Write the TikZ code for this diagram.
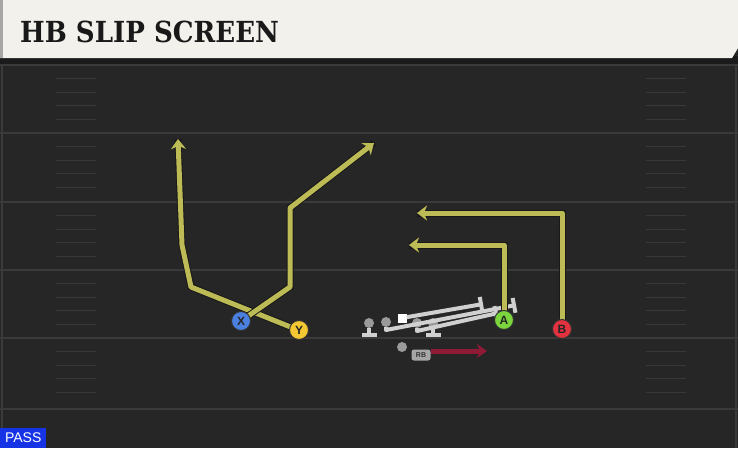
\documentclass[tikz,border=0pt]{standalone}
\usepackage{fontspec}
\setsansfont{Liberation Sans}
\newfontfamily\titlefont{DejaVu Serif Condensed}
\usetikzlibrary{arrows.meta}

\definecolor{fieldbg}{HTML}{262626}
\definecolor{bandc}{HTML}{1B1B1B}
\definecolor{yardc}{HTML}{3A3A3A}
\definecolor{hashc}{HTML}{383838}
\definecolor{titlebg}{HTML}{F3F1EB}
\definecolor{routec}{HTML}{BDBB55}
\definecolor{olc}{HTML}{D0D0D0}
\definecolor{olgrey}{HTML}{9A9A9A}
\definecolor{rbred}{HTML}{8E1A35}
\definecolor{xblue}{HTML}{4A80E0}
\definecolor{yyellow}{HTML}{F4C832}
\definecolor{agreen}{HTML}{7AD63C}
\definecolor{bred}{HTML}{E2313F}
\definecolor{passblue}{HTML}{1634E6}

\tikzset{
  player/.style={circle,draw=black!80,line width=1pt,minimum size=19pt,inner sep=0pt,
    font=\sffamily\bfseries\fontsize{12}{12}\selectfont,text=black!85},
  route/.style={draw=routec,line width=5pt,line join=round,
    -{Stealth[length=10pt,width=15pt,inset=3pt]},
    preaction={draw=black!90,line width=7pt,-}},
  olman/.style={circle,fill=olgrey,minimum size=10pt,inner sep=0pt},
  olpath/.style={draw=olc,line width=4pt,line join=round,-{Bar[width=15pt,line width=4pt]}},
  rbroute/.style={draw=rbred,line width=5pt,-{Stealth[length=10pt,width=14pt,inset=3pt]}},
  rbtag/.style={rounded corners=2.5pt,fill=olc!80!black,minimum width=19pt,minimum height=11pt,
    inner sep=0pt,font=\sffamily\bfseries\fontsize{7}{7}\selectfont,text=black!80},
  yard/.style={draw=yardc,line width=2.5pt},
  hash/.style={draw=hashc,line width=1.3pt}
}

\begin{document}
\begin{tikzpicture}[x=1pt,y=-1pt]
  \useasboundingbox (0,0) rectangle (738,448);
  \fill[fieldbg] (0,0) rectangle (738,448);
  % field
  \fill[bandc] (0,56) rectangle (738,64);
  \foreach \s in {65,133,202,270,338,409}
    \draw[yard] (0,\s) -- (738,\s);
  \foreach \s in {65,133,202,270,338}
    \foreach \k in {1,...,4} {
      \draw[hash] (56,\s+13.6*\k) -- (96,\s+13.6*\k);
      \draw[hash] (646,\s+13.6*\k) -- (686,\s+13.6*\k);
    }
  \draw[yardc,line width=1.5pt] (2,64) -- (2,448);
  \draw[yardc,line width=1.5pt] (736,64) -- (736,448);
  % title
  \fill[titlebg] (0,0) -- (738,0) -- (738,48) -- (732,58) -- (0,58) -- cycle;
  \fill[black!35] (0,0) rectangle (3,58);
  \node[anchor=west,inner sep=0pt,text=black!90,
    font=\titlefont\bfseries\fontsize{29}{29}\selectfont] (title) at (20,32) {HB SLIP SCREEN};

  % line
  \node[olman] (LT) at (369,323) {};
  \node[olman] (LG) at (386,322) {};
  \node[fill=white,minimum size=9pt,inner sep=0pt] (C) at (402,318) {};
  \node[olman] (RG) at (417,323) {};
  \node[olman] (RT) at (433,323) {};
  \draw[olpath] (LT) -- ++(0,14);
  \draw[olpath] (RT) -- ++(0,14);
  \draw[olpath] (LG) -- (386,330) -- (516,305);
  \draw[olpath] (C) -- (483,304);
  \draw[olpath] (RG) -- (417,331) -- (498,313);

  % backfield
  \node[olman] (QB) at (402,347) {};
  \node[rbtag] (RB) at (421,355) {RB};
  \coordinate (rbend) at (487,351);
  \draw[rbroute] (RB.east) ++(0,-4) -- (rbend);

  % routes
  \coordinate (ytip) at (178,139);
  \coordinate (xtip) at (374,143);
  \coordinate (atip) at (409,245);
  \coordinate (btip) at (417,213);
  \draw[route] (298,330) -- (191,287) -- (182,245) -- (ytip);
  \draw[route] (241,321) -- (290,287) -- (290,208) -- (xtip);
  \draw[route] (504,320) -- (504,245) -- (atip);
  \draw[route] (562,329) -- (562,213) -- (btip);

  % receivers
  \node[player,fill=xblue] (X) at (241,321) {X};
  \node[player,fill=yyellow] (Y) at (299,330) {Y};
  \node[player,fill=agreen] (A) at (504,320) {A};
  \node[player,fill=bred] (B) at (562,329) {B};

  % play type
  \node[fill=passblue,text=white,anchor=south west,minimum width=46pt,minimum height=20pt,
    inner sep=0pt,font=\sffamily\fontsize{14}{14}\selectfont] (pass) at (0,448) {PASS};
\end{tikzpicture}
\end{document}
